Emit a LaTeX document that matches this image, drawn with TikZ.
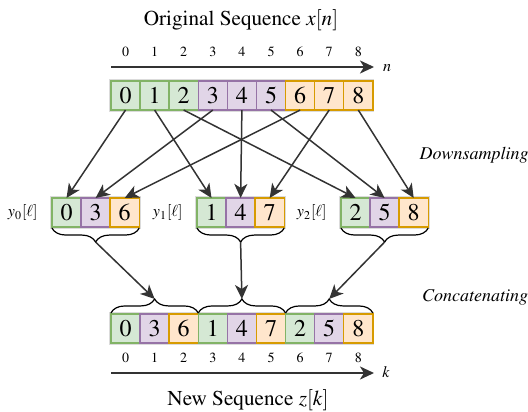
\documentclass[tikz,border=0pt]{standalone}
\usepackage[T1]{fontenc}
\usepackage{mathptmx}
\usetikzlibrary{positioning,arrows.meta,decorations.pathreplacing}
\pgfdeclarelayer{framelayer}
\pgfsetlayers{framelayer,main}
\definecolor{grnfill}{HTML}{D5E8D4}
\definecolor{grnline}{HTML}{82B366}
\definecolor{prpfill}{HTML}{E1D5E7}
\definecolor{prpline}{HTML}{9673A6}
\definecolor{orgfill}{HTML}{FFE6CC}
\definecolor{orgline}{HTML}{D79B00}
\definecolor{arrgray}{HTML}{333333}
\tikzset{>={Stealth[length=7pt,width=6.5pt,inset=2pt]}}
\tikzstyle{cell}  = [draw,
                     line width=0.7pt,
                     minimum size=14.55pt,
                     inner sep=0pt,
                     outer sep=0pt,
                     font=\fontsize{12}{14}\selectfont]
\tikzstyle{cellG} = [cell, fill=grnfill, draw=grnline]
\tikzstyle{cellP} = [cell, fill=prpfill, draw=prpline]
\tikzstyle{cellO} = [cell, fill=orgfill, draw=orgline]
\tikzstyle{frame} = [draw=black!14, line width=1.5pt]
\tikzstyle{arrow} = [->, arrgray, line width=0.75pt]
\tikzstyle{axis}  = [-{Stealth[length=7pt,width=6.5pt,inset=2pt]},
                     arrgray,
                     line width=1pt]
\tikzstyle{brc}   = [decorate,
                     decoration={brace, amplitude=7pt, raise=0.5pt},
                     line width=0.6pt]
\tikzstyle{idx}   = [font=\scriptsize, inner sep=0pt]
\tikzstyle{axlab} = [font=\footnotesize, inner sep=0pt]
\tikzstyle{ylab}  = [font=\footnotesize, inner sep=0pt]
\tikzstyle{ttl}   = [font=\fontsize{10.6}{12}\selectfont, inner sep=0pt]
\tikzstyle{note}  = [font=\small\itshape, inner sep=0pt]

\begin{document}
\begin{tikzpicture}[x=0.5pt, y=-0.5pt]
  \useasboundingbox (0,0) rectangle (528,411);

  % Original sequence
  \node[ttl] (ttl) at (241,20) {Original Sequence $x[n]$};
  \foreach \i in {0,...,8} {
    \node[idx] (n\i) at ({125.5+29.1*\i},52) {\i};
    \node[idx] (k\i) at ({125.5+29.1*\i},358) {\i};
  }
  \coordinate (nA) at (111,67);
  \coordinate (nB) at (374,67);
  \node[axlab] (nlab) at (387,68) {$n$};

  \node[cellG] (x0) at (125.5,95.5) {0};
  \node[cellG, right=0pt of x0] (x1) {1};
  \node[cellG, right=0pt of x1] (x2) {2};
  \node[cellP, right=0pt of x2] (x3) {3};
  \node[cellP, right=0pt of x3] (x4) {4};
  \node[cellP, right=0pt of x4] (x5) {5};
  \node[cellO, right=0pt of x5] (x6) {6};
  \node[cellO, right=0pt of x6] (x7) {7};
  \node[cellO, right=0pt of x7] (x8) {8};

  % Downsampled sequences
  \node[cellG] (y00) at (66.5,212.5) {0};
  \node[cellP, right=0pt of y00] (y01) {3};
  \node[cellO, right=0pt of y01] (y02) {6};
  \node[cellG] (y10) at (211.5,212.5) {1};
  \node[cellP, right=0pt of y10] (y11) {4};
  \node[cellO, right=0pt of y11] (y12) {7};
  \node[cellG] (y20) at (355.5,212.5) {2};
  \node[cellP, right=0pt of y20] (y21) {5};
  \node[cellO, right=0pt of y21] (y22) {8};
  \node[ylab, left=7pt of y00] (lab0) {$y_0[\ell]$};
  \node[ylab, left=7pt of y10] (lab1) {$y_1[\ell]$};
  \node[ylab, left=7pt of y20] (lab2) {$y_2[\ell]$};

  % New sequence
  \node[cellG] (z0) at (125.5,328.5) {0};
  \node[cellP, right=0pt of z0] (z1) {3};
  \node[cellO, right=0pt of z1] (z2) {6};
  \node[cellG, right=0pt of z2] (z3) {1};
  \node[cellP, right=0pt of z3] (z4) {4};
  \node[cellO, right=0pt of z4] (z5) {7};
  \node[cellG, right=0pt of z5] (z6) {2};
  \node[cellP, right=0pt of z6] (z7) {5};
  \node[cellO, right=0pt of z7] (z8) {8};
  \coordinate (kA) at (111,373);
  \coordinate (kB) at (374,373);
  \node[axlab] (klab) at (386,372) {$k$};
  \node[ttl] (ttl2) at (248,400) {New Sequence $z[k]$};

  \node[note] (down) at (474,155) {Downsampling};
  \node[note] (conc) at (475,297) {Concatenating};

  % Frames
  \begin{pgfonlayer}{framelayer}
    \draw[frame] (x0.north west) rectangle (x8.south east);
    \draw[frame] (y00.north west) rectangle (y02.south east);
    \draw[frame] (y10.north west) rectangle (y12.south east);
    \draw[frame] (y20.north west) rectangle (y22.south east);
    \draw[frame] (z0.north west) rectangle (z8.south east);
  \end{pgfonlayer}

  % Braces
  \draw[brc] (y02.south east) -- (y00.south west);
  \draw[brc] (y12.south east) -- (y10.south west);
  \draw[brc] (y22.south east) -- (y20.south west);
  \draw[brc] (z0.north west) -- (z2.north east);
  \draw[brc] (z3.north west) -- (z5.north east);
  \draw[brc] (z6.north west) -- (z8.north east);
  \coordinate[yshift=-7.5pt] (b0) at (y01.south);
  \coordinate[yshift=-7.5pt] (b1) at (y11.south);
  \coordinate[yshift=-7.5pt] (b2) at (y21.south);
  \coordinate[yshift=7.5pt] (t0) at (z1.north);
  \coordinate[yshift=7.5pt] (t1) at (z4.north);
  \coordinate[yshift=7.5pt] (t2) at (z7.north);

  % Edges
  \draw[axis] (nA) -- (nB);
  \draw[axis] (kA) -- (kB);
  \draw[arrow] (x0.south) -- (y00.north);
  \draw[arrow] (x1.south) -- (y10.north);
  \draw[arrow] (x2.south) -- (y20.north);
  \draw[arrow] (x3.south) -- (y01.north);
  \draw[arrow] (x4.south) -- (y11.north);
  \draw[arrow] (x5.south) -- (y21.north);
  \draw[arrow] (x6.south) -- (y02.north);
  \draw[arrow] (x7.south) -- (y12.north);
  \draw[arrow] (x8.south) -- (y22.north);
  \draw[arrow] (b0) -- (t0);
  \draw[arrow] (b1) -- (t1);
  \draw[arrow] (b2) -- (t2);

\end{tikzpicture}
\end{document}
